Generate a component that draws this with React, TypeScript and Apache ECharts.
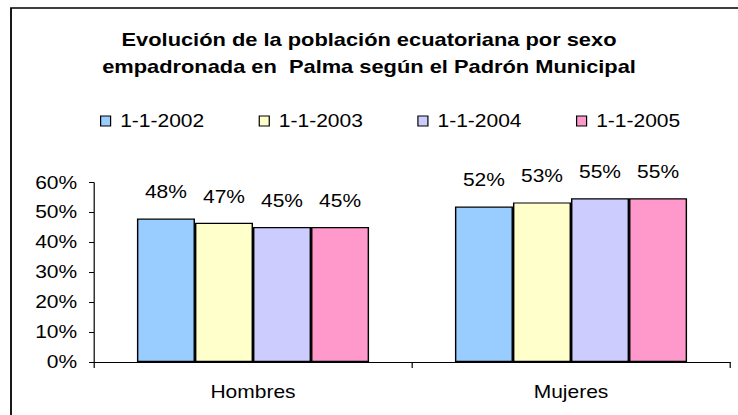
import React, { useEffect, useRef } from "react";
import * as echarts from "echarts";

const categories = ["Hombres", "Mujeres"];
const seriesNames = ["1-1-2002", "1-1-2003", "1-1-2004", "1-1-2005"];
const values2002 = [0.48, 0.52];
const values2003 = [0.466, 0.534];
const values2004 = [0.452, 0.548];
const values2005 = [0.452, 0.548];
const seriesColors = ["#99CCFF", "#FFFFCC", "#CCCCFF", "#FF99CC"];
const titleText = "Evolución de la población ecuatoriana por sexo\nempadronada en  Palma según el Padrón Municipal";

const S = 1.2; // horizontal stretch of the original picture
const W = 738 / S;
const H = 415;
const FONT = "Liberation Sans, Arial, sans-serif";

export default function App() {
  const ref = useRef<HTMLDivElement>(null);
  useEffect(() => {
    document.body.style.margin = "0";
    const chart = echarts.init(ref.current!, undefined, { renderer: "svg" });
    const allValues = [values2002, values2003, values2004, values2005];
    chart.setOption({
      animation: false,
      backgroundColor: "#ffffff",
      textStyle: { fontFamily: FONT, color: "#000" },
      title: {
        text: titleText,
        left: "center",
        top: 26,
        padding: 0,
        textStyle: {
          fontFamily: FONT,
          fontSize: 18.2,
          fontWeight: "bold",
          color: "#000",
          lineHeight: 27,
        },
      },
      legend: {
        left: 100 / S,
        top: 112,
        padding: 0,
        itemWidth: 10 / S,
        itemHeight: 10,
        itemGap: 158 / S - (10 / S + 5 + 3 + 4.0 * 17.5),
        icon: "rect",
        data: seriesNames,
        textStyle: { fontFamily: FONT, fontSize: 17.5, color: "#000", padding: [0, 0, 0, 3] },
        itemStyle: { borderColor: "#000", borderWidth: 1 },
      },
      grid: {
        left: 94 / S,
        right: W - 730 / S,
        top: 182.7,
        bottom: H - 362,
        containLabel: false,
      },
      xAxis: {
        type: "category",
        data: categories,
        axisLine: { lineStyle: { color: "#000", width: 1 } },
        axisTick: { show: true, alignWithLabel: false, length: 6, lineStyle: { color: "#000" } },
        axisLabel: { fontFamily: FONT, fontSize: 17.5, color: "#000", margin: 21 },
      },
      yAxis: {
        type: "value",
        min: 0,
        max: 0.6,
        interval: 0.1,
        splitLine: { show: false },
        axisLine: { show: true, lineStyle: { color: "#000", width: 1 } },
        axisTick: { show: true, length: 5 / S, lineStyle: { color: "#000" } },
        axisLabel: {
          fontFamily: FONT,
          fontSize: 17.5,
          color: "#000",
          margin: 14,
          formatter: (v: number) => Math.round(v * 100) + "%",
        },
      },
      graphic: [
        {
          type: "rect",
          shape: { x: 11 / S, y: 8, width: 2000, height: 2000 },
          style: { fill: "none", stroke: "#000", lineWidth: 1.5 },
          silent: true,
          z: 100,
        },
      ],
      series: seriesNames.map((name, i) => ({
        name,
        type: "bar",
        data: allValues[i],
        barGap: "0%",
        barCategoryGap: "27%",
        itemStyle: { color: seriesColors[i], borderColor: "#000", borderWidth: 1.2 },
        label: {
          show: true,
          position: "top",
          distance: 17,
          fontFamily: FONT,
          fontSize: 17.5,
          color: "#000",
          formatter: (p: any) => Math.round(p.value * 100) + "%",
        },
      })),
    });
    return () => chart.dispose();
  }, []);
  return (
    <div
      ref={ref}
      style={{
        position: "fixed",
        left: 0,
        top: 0,
        width: W,
        height: H,
        transform: `scaleX(${S})`,
        transformOrigin: "0 0",
      }}
    />
  );
}
